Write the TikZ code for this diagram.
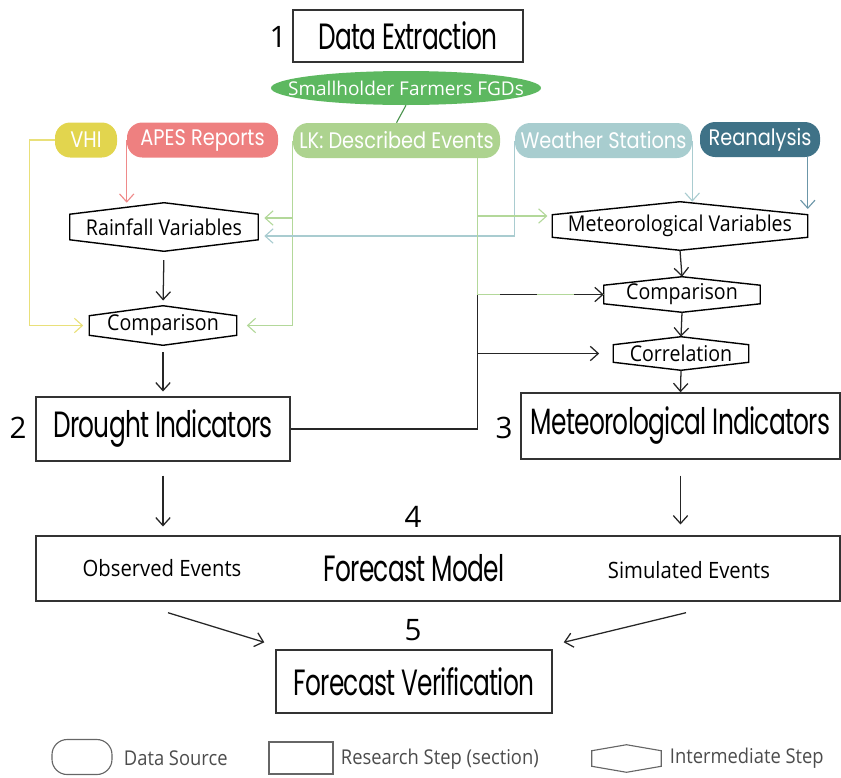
\documentclass[tikz,border=0pt]{standalone}
\usepackage{fontspec}
\setmainfont{Open Sans}
\newfontfamily\titlefont[FakeStretch=0.68, LetterSpace=-2]{Poppins}
\newfontfamily\srcfont[FakeStretch=0.86]{Poppins}
\newfontfamily\stepfont[FakeStretch=0.9]{Open Sans}
\usetikzlibrary{arrows.meta,calc,shapes.geometric}

\newcommand{\pxu}{0.025cm}

\definecolor{fgdgreen}{HTML}{5DB860}
\definecolor{vhiyellow}{HTML}{E2D54E}
\definecolor{apespink}{HTML}{EE8080}
\definecolor{lkgreen}{HTML}{ADD38F}
\definecolor{wsblue}{HTML}{A8CDCF}
\definecolor{reablue}{HTML}{3F7287}
\definecolor{vhiline}{HTML}{E9E07A}
\definecolor{apesline}{HTML}{EF8A8A}
\definecolor{lkline}{HTML}{B3D89A}
\definecolor{wsline}{HTML}{A9CCD0}
\definecolor{realine}{HTML}{6B96A8}

\tikzset{
  sect/.style 2 args={draw=black!80, line width=1pt, inner sep=0pt,
    minimum width=#1*\pxu, minimum height=#2*\pxu,
    font=\titlefont\fontsize{26pt}{30pt}\selectfont},
  src/.style 2 args={rounded corners=0.38cm, inner sep=0pt, text=white,
    minimum width=#1*\pxu, minimum height=#2*\pxu,
    font=\srcfont\fontsize{16pt}{18pt}\selectfont},
  mid/.style 2 args={inner sep=0pt,
    minimum width=#1*\pxu, minimum height=#2*\pxu,
    font=\stepfont\fontsize{15.5pt}{18pt}\selectfont},
  hexline/.style={draw=black, line width=1pt},
  num/.style={font=\fontsize{21pt}{24pt}\selectfont},
  evt/.style={font=\stepfont\fontsize{16pt}{19pt}\selectfont},
  lgd/.style={font=\stepfont\fontsize{14.5pt}{17pt}\selectfont, text=black!70, anchor=west},
  flow/.style={draw=black!85, line width=0.9pt, -{Straight Barb[length=2mm,width=3.6mm]}},
  link/.style={line width=0.8pt, -{Straight Barb[length=2mm,width=3.6mm]}}
}

\begin{document}
\begin{tikzpicture}[x=\pxu, y=-\pxu]
    \useasboundingbox (0,0) rectangle (841,777);

    % 1 data extraction
    \node[num] (n1) at (278,37) {1};
    \node[sect={230}{52}] (extract) at (408,36) {Data Extraction};
    \node[ellipse, fill=fgdgreen, text=white, inner xsep=-0.56cm, inner ysep=0pt, minimum height=34*\pxu,
          font=\fontsize{13.5pt}{16pt}\selectfont] (fgd) at (406,88) {Smallholder Farmers FGDs};

    % data sources
    \node[src={62}{35}, fill=vhiyellow] (vhi) at (86,140) {VHI};
    \node[src={151}{35}, fill=apespink] (apes) at (202.5,140) {APES Reports};
    \node[src={207}{35}, fill=lkgreen] (lk) at (396.5,140.5) {LK: Described Events};
    \node[src={177}{35}, fill=wsblue] (wst) at (603.5,140.5) {Weather Stations};
    \node[src={120}{35}, fill=reablue] (rea) at (760,139.5) {Reanalysis};

    % intermediate steps
    \node[mid={188}{48}] (rainvar) at (164,227) {Rainfall Variables};
    \node[mid={147}{39}] (cmpL) at (163,325.5) {Comparison};
    \node[mid={255}{48}] (metvar) at (680,226) {Meteorological Variables};
    \node[mid={156}{35}] (cmpR) at (682,294.5) {Comparison};
    \node[mid={135}{33}] (corr) at (681,353.5) {Correlation};

    % 2 and 3
    \node[num] (n2) at (18,428) {2};
    \node[sect={254}{64}] (drought) at (163,429) {Drought Indicators};
    \node[num] (n3) at (504,428) {3};
    \node[sect={319}{66}] (metind) at (680.5,426) {Meteorological Indicators};

    % 4 forecast model
    \node[num] (n4) at (413,517) {4};
    \node[sect={804}{65}] (model) at (438,568.5) {};
    \node[evt] (obs) at (162,568) {Observed Events};
    \node[font=\titlefont\fontsize{26pt}{30pt}\selectfont] (fmodel) at (414,568) {Forecast Model};
    \node[evt] (sim) at (689,570) {Simulated Events};

    % 5 verification
    \node[num] (n5) at (413,630) {5};
    \node[sect={276}{63}] (verif) at (414,681.5) {Forecast Verification};

    % legend
    \node[draw=black!60, line width=0.8pt, rounded corners=0.38cm, minimum width=60*\pxu, minimum height=35*\pxu] (lgsrc) at (82,757) {};
    \node[lgd] (lgsrctxt) at (119,758) {Data Source};
    \node[draw=black!60, line width=0.8pt, minimum width=64*\pxu, minimum height=32*\pxu] (lgstep) at (301,758) {};
    \node[lgd] (lgsteptxt) at (336,759) {Research Step (section)};
    \node[mid={69}{27}] (lghex) at (626.5,758.5) {};
    \node[lgd] (lghextxt) at (665,758) {Intermediate Step};

    % hexagon outlines: node/point height
    \foreach \n/\p in {rainvar/11.5, cmpL/10, metvar/13, cmpR/8.5, corr/8}
      \draw[hexline] (\n.north) -- ([yshift=-\p*\pxu]\n.north east) -- ([yshift=\p*\pxu]\n.south east)
        -- (\n.south) -- ([yshift=\p*\pxu]\n.south west) -- ([yshift=-\p*\pxu]\n.north west) -- cycle;
    \draw[hexline, draw=black!60, line width=0.8pt] (lghex.north) -- ([yshift=-6*\pxu]lghex.north east)
      -- ([yshift=6*\pxu]lghex.south east) -- (lghex.south) -- ([yshift=6*\pxu]lghex.south west)
      -- ([yshift=-6*\pxu]lghex.north west) -- cycle;

    % coloured links
    \draw[fgdgreen!80!black, line width=0.8pt] (fgd.south) -- (lk.north);
    \draw[link, apesline] (apes.west) -- (apes.west |- rainvar.north);
    \draw[link, vhiline, shorten >=1.5mm] (vhi.west) -- ++(-25,0) |- (cmpL.west);
    \coordinate (rvA) at ($(rainvar.east)+(0,-9)$);
    \coordinate (rvB) at ($(rainvar.east)+(0,9)$);
    \coordinate (mvA) at ($(metvar.west)+(0,-10)$);
    \coordinate (lkR) at ($(lk.south east)+(-23,0)$);
    \draw[link, lkline, shorten >=2.5mm] (lk.west) |- (cmpL.east);
    \draw[link, lkline, shorten >=1.5mm] (lk.west |- rvA) -- (rvA);
    \draw[link, wsline, shorten >=1.5mm] (wst.west) |- (rvB);
    \draw[link, wsline] (wst.east) -- (wst.east |- metvar.north);
    \draw[link, realine] (rea.south -| metvar.east) -- ($(metvar.east)+(0,-17)$);
    \draw[lkline, line width=0.8pt] (lkR) |- (cmpR.west);
    \draw[link, lkline, shorten >=1.2mm] (lkR |- mvA) -- (mvA);

    % black links
    \coordinate (jn) at (lkR |- corr.west);
    \draw[flow, shorten >=3.5mm] (drought.east) -| (jn) -- (corr.west);
    \draw[flow, -] (jn) -- (lkR |- cmpR.west);
    \draw[flow, dash pattern=on 0.925cm off 0.925cm, dash phase=1.275cm] (lkR |- cmpR.west) -- (cmpR.west);
    \draw[flow, shorten <=2.2mm, shorten >=1.3mm] (rainvar.south) -- (cmpL.north);
    \draw[flow, shorten <=1.8mm, shorten >=1.2mm] (cmpL.south) -- (drought.north);
    \draw[flow] (metvar.south) -- (cmpR.north);
    \draw[flow] (cmpR.south) -- (corr.north);
    \draw[flow] (corr.south) -- (metind.north);
    \draw[flow, shorten <=3.5mm, shorten >=2.2mm] (drought.south) -- (drought.south |- model.north);
    \draw[flow, shorten <=4mm, shorten >=2.7mm] (metind.south) -- (metind.south |- model.north);
    \draw[flow] ($(model.south -| obs)+(6,11)$) -- ($(verif.north west)+(-11,-7)$);
    \draw[flow] ($(model.south -| sim)+(-3,11)$) -- ($(verif.north east)+(11,-7)$);
\end{tikzpicture}
\end{document}
